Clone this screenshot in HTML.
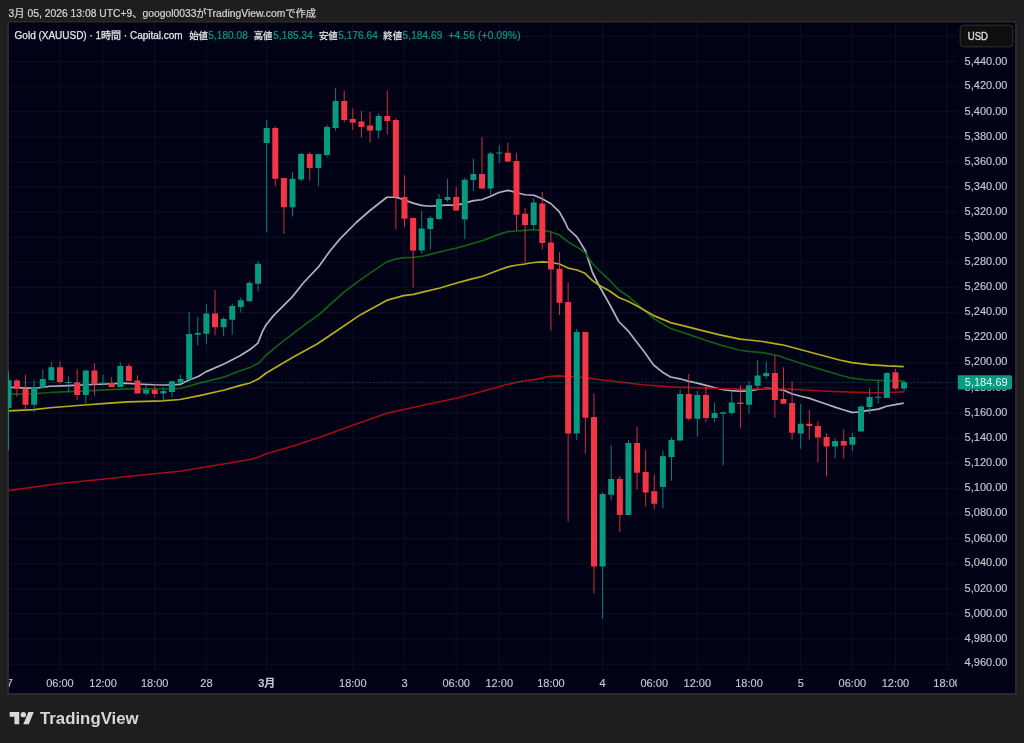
<!DOCTYPE html>
<html lang="ja"><head><meta charset="utf-8"><title>Gold (XAUUSD) · 1時間 · Capital.com</title>
<style>
html,body{margin:0;padding:0;background:#1e1e1e;}
body{width:1024px;height:743px;overflow:hidden;position:relative;font-family:"Liberation Sans","Noto Sans CJK JP",sans-serif;}
svg{position:absolute;left:0;top:0;display:block}
text{font-family:"Liberation Sans","Noto Sans CJK JP",sans-serif;}
.ax{font-size:11px;fill:#c6c7ce;stroke:#c6c7ce;stroke-width:0.15px}
.lg{font-size:10px;fill:#e4e4e6;stroke:#e4e4e6;stroke-width:0.25px}
.lv{font-size:10px;fill:#0a9a82;stroke:#0a9a82;stroke-width:0.2px}
</style></head><body>
<svg width="1024" height="743" viewBox="0 0 1024 743">
<defs><clipPath id="cp"><rect x="7.9" y="22.5" width="949.1" height="648.1"/></clipPath>
<clipPath id="ct"><rect x="9" y="670.6" width="948" height="22.4"/></clipPath></defs>
<text x="8.6" y="16.7" font-size="10.3" fill="#d6d6d6" stroke="#d6d6d6" stroke-width="0.2" textLength="307.5" lengthAdjust="spacing">3月 05, 2026 13:08 UTC+9、googol0033がTradingView.comで作成</text>
<rect x="7" y="21" width="1010" height="674" fill="#2a2a2b"/>
<rect x="9" y="22.5" width="1006" height="670.5" fill="#020217"/>
<path d="M9 36.39H957M9 61.50H957M9 86.61H957M9 111.72H957M9 136.82H957M9 161.93H957M9 187.04H957M9 212.15H957M9 237.26H957M9 262.36H957M9 287.47H957M9 312.58H957M9 337.69H957M9 362.80H957M9 387.90H957M9 413.01H957M9 438.12H957M9 463.23H957M9 488.34H957M9 513.44H957M9 538.55H957M9 563.66H957M9 588.77H957M9 613.88H957M9 638.98H957M9 664.09H957M59.98 22.5V670.6M103.04 22.5V670.6M154.72 22.5V670.6M206.40 22.5V670.6M266.69 22.5V670.6M352.82 22.5V670.6M404.50 22.5V670.6M456.18 22.5V670.6M499.24 22.5V670.6M550.92 22.5V670.6M602.60 22.5V670.6M654.27 22.5V670.6M697.34 22.5V670.6M749.02 22.5V670.6M800.70 22.5V670.6M852.37 22.5V670.6M895.44 22.5V670.6M947.12 22.5V670.6" stroke="#ffffff" stroke-opacity="0.048" stroke-width="1.25" fill="none"/>
<g clip-path="url(#cp)">
<path d="M8.50 387.40L11.25 387.25L25.60 388.10L37.50 388.00L50.00 386.25L68.75 385.60L87.50 384.75L106.25 384.00L124.50 383.10L137.00 384.00L154.50 384.75L168.25 385.00L180.10 384.40L189.50 379.75L198.25 376.50L205.75 371.90L224.50 363.75L239.50 355.90L250.00 349.50L257.90 343.20L262.25 331.90L266.00 325.00L273.50 315.60L282.25 306.90L292.25 296.90L303.50 282.75L307.25 278.75L318.50 266.90L329.75 251.25L340.00 238.90L356.25 222.50L370.00 210.50L386.90 197.25L396.25 197.25L404.40 200.00L413.10 203.10L421.25 205.40L430.25 206.25L438.50 205.60L447.50 205.00L456.25 205.40L464.50 203.10L473.50 200.60L481.60 199.75L490.75 196.25L498.90 192.50L507.90 190.40L516.00 192.50L525.00 194.75L534.00 195.25L542.10 198.75L551.00 203.75L559.40 211.90L565.00 222.00L568.10 228.75L576.90 236.90L585.40 250.80L592.50 272.50L598.75 285.00L610.00 305.00L618.75 321.50L628.30 331.10L636.50 341.80L644.75 352.50L653.60 365.00L662.50 372.20L670.60 377.00L680.00 378.80L689.00 381.40L697.25 383.10L706.00 385.40L714.25 387.50L723.25 389.75L731.40 390.60L740.25 391.25L748.50 390.80L757.50 389.40L766.50 388.30L774.70 388.90L783.60 390.25L791.75 393.75L800.75 396.25L808.90 398.10L817.90 401.25L826.00 404.00L834.90 407.10L843.90 410.00L852.00 412.40L857.50 412.10L861.00 411.40L869.30 410.30L878.50 409.10L886.50 406.25L895.40 404.60L903.75 403.10" stroke="#b2b1bb" stroke-width="1.7" fill="none" stroke-linejoin="round"/>
<path d="M8.50 394.20L11.25 394.10L33.75 393.75L50.00 392.50L68.75 391.60L87.50 390.90L106.25 389.90L127.50 388.90L137.00 388.75L162.00 389.00L180.10 388.50L199.50 383.10L224.50 376.90L239.50 371.00L250.00 367.50L258.75 363.00L266.25 355.00L281.00 342.90L296.00 331.25L303.50 325.60L318.50 315.00L343.50 292.50L361.00 279.40L386.60 261.90L396.25 258.90L404.40 257.60L413.10 257.50L423.50 256.00L430.00 254.40L447.50 250.00L456.25 248.10L472.50 243.50L482.50 240.60L498.90 234.40L507.90 231.60L516.00 231.00L525.00 230.40L534.00 229.75L542.10 230.40L551.00 231.90L559.40 235.00L568.10 241.90L576.90 246.90L585.60 253.10L592.50 263.75L602.50 273.75L610.00 280.60L618.75 290.00L628.10 296.25L637.50 304.40L647.50 313.10L653.75 318.50L663.50 324.40L670.60 328.50L688.75 334.40L706.25 340.50L722.50 345.60L740.00 350.25L748.75 351.30L762.50 352.70L777.50 355.50L783.25 357.50L802.00 363.75L820.75 369.40L839.50 375.00L852.00 378.20L864.50 379.75L879.50 380.50L887.50 380.70L903.75 380.90" stroke="#0f5f12" stroke-width="1.7" fill="none" stroke-linejoin="round"/>
<path d="M8.50 410.90L33.75 409.60L50.00 407.75L68.75 406.25L87.50 404.75L106.25 403.40L127.50 401.80L137.00 401.60L162.00 400.90L180.10 399.50L199.50 395.60L224.50 390.00L239.50 385.60L250.00 383.00L258.75 378.75L266.25 373.00L292.50 357.50L317.50 343.75L335.00 332.00L361.00 314.40L386.60 300.40L403.50 295.60L413.50 294.40L423.50 291.90L440.00 288.00L455.00 283.50L470.00 279.40L482.50 276.25L498.90 270.00L507.90 266.90L516.00 265.25L525.00 264.00L534.00 262.50L542.10 261.90L551.00 262.50L559.40 264.00L568.10 268.10L576.90 270.00L585.00 273.30L592.50 280.60L598.75 285.00L610.00 291.25L618.75 297.50L628.10 301.25L637.50 306.25L647.50 311.90L653.75 315.60L670.60 322.60L688.75 327.10L697.50 329.40L718.75 334.60L740.00 339.10L748.75 340.00L762.50 341.50L777.50 344.20L783.25 345.00L802.00 350.00L820.75 355.00L839.50 360.00L852.00 362.60L868.75 364.60L887.50 365.90L903.75 366.60" stroke="#b7ad1c" stroke-width="1.7" fill="none" stroke-linejoin="round"/>
<path d="M8.50 490.60L60.00 483.50L100.00 479.50L127.50 476.50L180.00 471.25L225.00 463.75L250.00 459.50L258.75 457.00L266.25 453.75L292.50 446.25L317.50 438.00L350.00 426.25L387.50 413.00L405.00 409.25L430.00 403.75L457.50 398.00L480.00 392.00L505.00 385.00L520.00 381.50L536.00 379.40L548.50 376.50L558.50 375.90L573.50 376.50L588.50 378.10L602.25 380.00L623.50 382.50L642.25 384.75L663.50 386.30L670.60 386.90L689.00 387.50L706.00 388.10L723.25 388.75L740.25 389.10L757.50 388.75L774.60 389.00L783.25 388.90L802.00 389.75L827.00 391.25L852.00 392.20L875.00 392.75L887.50 392.50L903.75 391.90" stroke="#a40d14" stroke-width="1.7" fill="none" stroke-linejoin="round"/>
<path d="M8.50 371.25V450.00M34.14 380.25V412.25M42.75 369.75V387.75M51.36 361.90V380.25M68.59 376.25V392.50M85.82 370.00V403.75M103.04 374.75V385.60M120.27 362.50V386.90M146.11 385.00V395.00M163.33 386.90V402.25M171.95 381.00V397.50M180.56 374.60V383.10M189.17 311.90V379.60M197.79 316.90V345.25M206.40 304.40V344.40M223.62 316.90V336.25M232.24 303.75V334.75M240.85 297.25V312.50M249.46 281.00V301.90M258.08 261.25V291.50M266.69 120.00V232.50M292.53 172.10V216.50M301.14 153.10V181.25M318.37 154.00V186.25M326.98 125.00V157.50M335.59 88.10V130.60M378.66 113.50V138.75M421.72 211.00V253.75M430.34 216.00V249.75M438.95 194.00V219.75M447.56 178.75V201.90M464.79 178.10V239.10M473.40 159.00V190.90M490.63 151.90V195.25M499.24 145.25V163.10M533.69 198.40V229.40M576.76 329.00V440.00M602.60 492.25V618.75M611.21 445.00V500.40M628.44 440.00V515.00M662.89 450.60V508.50M671.50 437.50V480.60M680.11 389.40V440.60M697.34 391.00V436.50M714.57 402.50V422.50M723.18 411.90V465.25M731.79 392.50V414.60M749.02 381.25V413.75M757.63 360.10V388.75M766.24 361.70V378.75M800.70 404.00V448.75M835.15 438.10V458.50M852.37 432.75V451.25M860.99 405.60V431.60M869.60 388.50V413.60M878.21 379.75V403.75M886.83 372.25V398.10M904.05 380.60V391.50" stroke="#089981" stroke-width="1" stroke-opacity="0.85" fill="none"/>
<path d="M16.91 378.75V396.90M25.53 374.75V410.60M59.98 361.50V384.40M77.20 369.00V400.00M94.43 363.10V395.90M111.66 376.90V386.90M128.88 363.75V381.00M137.50 375.25V393.50M154.72 384.40V397.50M215.01 290.00V335.60M275.30 126.25V186.25M283.92 177.90V233.75M309.75 152.25V180.60M344.21 90.60V122.50M352.82 108.50V130.00M361.43 111.00V137.75M370.05 111.90V142.75M387.27 90.60V134.60M395.88 118.10V229.40M404.50 175.25V226.90M413.11 217.90V287.50M456.18 186.90V210.60M482.01 137.10V189.40M507.85 142.75V162.25M516.47 152.75V230.60M525.08 208.10V263.10M542.31 191.90V249.75M550.92 232.50V330.60M559.53 252.25V315.00M568.14 282.10V521.60M585.37 332.10V453.75M593.98 393.50V593.50M619.82 476.00V532.10M637.05 426.90V489.75M645.66 449.75V506.25M654.27 475.00V509.40M688.73 374.00V420.60M705.95 386.90V422.50M740.40 385.00V428.50M774.86 355.20V417.80M783.47 367.25V403.75M792.08 381.25V439.75M809.31 410.00V439.75M817.92 421.25V462.50M826.53 433.50V476.50M843.76 429.40V458.50M895.44 369.00V390.00" stroke="#f23645" stroke-width="1" stroke-opacity="0.85" fill="none"/>
<path d="M5.50 380.25h6v27.85h-6zM31.14 387.10h6v17.65h-6zM39.75 379.00h6v8.75h-6zM48.36 367.25h6v13.00h-6zM65.59 382.07h6v1.00h-6zM82.82 370.60h6v24.40h-6zM100.04 382.82h6v1.00h-6zM117.27 365.90h6v21.00h-6zM143.11 389.75h6v3.65h-6zM160.33 391.00h6v2.40h-6zM168.95 381.25h6v10.65h-6zM177.56 379.00h6v3.50h-6zM186.17 334.00h6v45.60h-6zM194.79 332.90h6v1.85h-6zM203.40 313.40h6v20.35h-6zM220.62 319.10h6v8.15h-6zM229.24 306.00h6v13.75h-6zM237.85 300.25h6v6.65h-6zM246.46 283.10h6v18.15h-6zM255.08 263.75h6v20.00h-6zM263.69 127.90h6v15.00h-6zM289.53 178.75h6v28.50h-6zM298.14 154.00h6v25.60h-6zM315.37 154.00h6v14.10h-6zM323.98 127.10h6v27.90h-6zM332.59 101.00h6v27.10h-6zM375.66 115.90h6v14.70h-6zM418.72 228.50h6v22.10h-6zM427.34 217.90h6v11.20h-6zM435.95 199.10h6v19.90h-6zM444.56 196.90h6v3.10h-6zM461.79 179.75h6v39.85h-6zM470.40 174.00h6v6.00h-6zM487.63 153.50h6v35.00h-6zM496.24 152.50h6v1.00h-6zM530.69 202.50h6v22.50h-6zM573.76 332.10h6v101.40h-6zM599.60 494.00h6v72.50h-6zM608.21 479.00h6v15.75h-6zM625.44 443.10h6v71.90h-6zM659.89 456.25h6v30.75h-6zM668.50 440.00h6v16.90h-6zM677.11 394.00h6v46.60h-6zM694.34 395.00h6v23.75h-6zM711.57 413.10h6v5.00h-6zM720.18 412.25h6v1.50h-6zM728.79 402.50h6v10.60h-6zM746.02 385.25h6v19.50h-6zM754.63 375.60h6v10.20h-6zM763.24 373.10h6v3.15h-6zM797.70 423.75h6v9.75h-6zM832.15 441.00h6v5.60h-6zM849.37 436.90h6v7.85h-6zM857.99 406.50h6v25.10h-6zM866.60 396.90h6v10.10h-6zM875.21 396.82h6v1.00h-6zM883.83 373.10h6v25.00h-6zM901.05 382.25h6v6.25h-6z" fill="#089981"/>
<path d="M13.91 380.60h6v8.50h-6zM22.53 388.75h6v16.00h-6zM56.98 367.25h6v14.65h-6zM74.20 382.25h6v12.75h-6zM91.43 370.60h6v13.80h-6zM108.66 383.10h6v3.80h-6zM125.88 366.00h6v15.00h-6zM134.50 380.60h6v12.90h-6zM151.72 389.75h6v4.25h-6zM212.01 313.40h6v13.85h-6zM272.30 127.90h6v50.85h-6zM280.92 177.90h6v29.35h-6zM306.75 154.00h6v14.00h-6zM341.21 101.00h6v19.00h-6zM349.82 119.00h6v3.75h-6zM358.43 121.60h6v5.30h-6zM367.05 125.60h6v5.00h-6zM384.27 115.90h6v5.00h-6zM392.88 120.00h6v76.90h-6zM401.50 196.90h6v21.85h-6zM410.11 217.90h6v32.70h-6zM453.18 196.90h6v13.70h-6zM479.01 174.00h6v14.50h-6zM504.85 152.75h6v8.85h-6zM513.47 161.00h6v53.75h-6zM522.08 213.75h6v11.25h-6zM539.31 203.40h6v39.70h-6zM547.92 242.50h6v26.90h-6zM556.53 268.75h6v34.00h-6zM565.14 301.90h6v131.60h-6zM582.37 332.10h6v85.65h-6zM590.98 416.90h6v149.60h-6zM616.82 479.00h6v36.00h-6zM634.05 443.10h6v29.65h-6zM642.66 471.90h6v20.60h-6zM651.27 491.25h6v12.50h-6zM685.73 394.00h6v24.75h-6zM702.95 395.00h6v23.10h-6zM737.40 402.50h6v1.60h-6zM771.86 373.10h6v26.80h-6zM780.47 399.00h6v4.75h-6zM789.08 403.10h6v29.65h-6zM806.31 423.75h6v2.25h-6zM814.92 426.00h6v11.50h-6zM823.53 436.90h6v9.70h-6zM840.76 441.00h6v4.60h-6zM892.44 372.25h6v16.25h-6z" fill="#f23645"/>
</g>
<path d="M9 382.4H957" stroke="#089981" stroke-opacity="0.6" stroke-width="1" stroke-dasharray="0.95 1.5" fill="none"/>
<text class="lg" x="14.6" y="38.7" textLength="168" lengthAdjust="spacing">Gold (XAUUSD) · 1時間 · Capital.com</text>
<text class="lg" x="189.2" y="38.5" style="font-size:9.4px">始値</text>
<text class="lv" x="208.2" y="38.7" textLength="39.6" lengthAdjust="spacing">5,180.08</text>
<text class="lg" x="253.7" y="38.5" style="font-size:9.4px">高値</text>
<text class="lv" x="273.2" y="38.7" textLength="39.6" lengthAdjust="spacing">5,185.34</text>
<text class="lg" x="318.9" y="38.5" style="font-size:9.4px">安値</text>
<text class="lv" x="338.2" y="38.7" textLength="39.6" lengthAdjust="spacing">5,176.64</text>
<text class="lg" x="383.3" y="38.5" style="font-size:9.4px">終値</text>
<text class="lv" x="402.6" y="38.7" textLength="39.6" lengthAdjust="spacing">5,184.69</text>
<text class="lv" x="448.4" y="38.7" textLength="72.2" lengthAdjust="spacing">+4.56 (+0.09%)</text>
<text class="ax" x="964.6" y="64.80">5,440.00</text>
<text class="ax" x="964.6" y="89.41">5,420.00</text>
<text class="ax" x="964.6" y="114.52">5,400.00</text>
<text class="ax" x="964.6" y="139.62">5,380.00</text>
<text class="ax" x="964.6" y="164.73">5,360.00</text>
<text class="ax" x="964.6" y="189.84">5,340.00</text>
<text class="ax" x="964.6" y="214.95">5,320.00</text>
<text class="ax" x="964.6" y="240.06">5,300.00</text>
<text class="ax" x="964.6" y="265.16">5,280.00</text>
<text class="ax" x="964.6" y="290.27">5,260.00</text>
<text class="ax" x="964.6" y="315.38">5,240.00</text>
<text class="ax" x="964.6" y="340.49">5,220.00</text>
<text class="ax" x="964.6" y="364.80">5,200.00</text>
<text class="ax" x="964.6" y="390.70">5,180.00</text>
<text class="ax" x="964.6" y="415.81">5,160.00</text>
<text class="ax" x="964.6" y="440.92">5,140.00</text>
<text class="ax" x="964.6" y="466.03">5,120.00</text>
<text class="ax" x="964.6" y="491.14">5,100.00</text>
<text class="ax" x="964.6" y="516.24">5,080.00</text>
<text class="ax" x="964.6" y="542.05">5,060.00</text>
<text class="ax" x="964.6" y="566.46">5,040.00</text>
<text class="ax" x="964.6" y="591.57">5,020.00</text>
<text class="ax" x="964.6" y="616.68">5,000.00</text>
<text class="ax" x="964.6" y="641.78">4,980.00</text>
<text class="ax" x="964.6" y="666.29">4,960.00</text>
<path d="M957.8 375.2h52.2a2 2 0 0 1 2 2v10.3a2 2 0 0 1 -2 2h-52.2z" fill="#0a9c83"/>
<text x="964.8" y="385.8" font-size="11" fill="#eaf6f3">5,184.69</text>
<rect x="960.2" y="25.2" width="52.6" height="21.6" rx="3.2" fill="#0f0f0f" stroke="#323232" stroke-width="1"/>
<text x="967.8" y="40" font-size="10.2" fill="#d9d9d9" stroke="#d9d9d9" stroke-width="0.4" textLength="20.2" lengthAdjust="spacingAndGlyphs">USD</text>
<g clip-path="url(#ct)">
<text class="ax" x="6.80" y="686.6" text-anchor="middle">27</text>
<text class="ax" x="59.98" y="686.6" text-anchor="middle">06:00</text>
<text class="ax" x="103.04" y="686.6" text-anchor="middle">12:00</text>
<text class="ax" x="154.72" y="686.6" text-anchor="middle">18:00</text>
<text class="ax" x="206.40" y="686.6" text-anchor="middle">28</text>
<text class="ax" x="266.69" y="686.6" text-anchor="middle" font-weight="bold" fill="#dcdde0">3月</text>
<text class="ax" x="352.82" y="686.6" text-anchor="middle">18:00</text>
<text class="ax" x="404.50" y="686.6" text-anchor="middle">3</text>
<text class="ax" x="456.18" y="686.6" text-anchor="middle">06:00</text>
<text class="ax" x="499.24" y="686.6" text-anchor="middle">12:00</text>
<text class="ax" x="550.92" y="686.6" text-anchor="middle">18:00</text>
<text class="ax" x="602.60" y="686.6" text-anchor="middle">4</text>
<text class="ax" x="654.27" y="686.6" text-anchor="middle">06:00</text>
<text class="ax" x="697.34" y="686.6" text-anchor="middle">12:00</text>
<text class="ax" x="749.02" y="686.6" text-anchor="middle">18:00</text>
<text class="ax" x="800.70" y="686.6" text-anchor="middle">5</text>
<text class="ax" x="852.37" y="686.6" text-anchor="middle">06:00</text>
<text class="ax" x="895.44" y="686.6" text-anchor="middle">12:00</text>
<text class="ax" x="947.12" y="686.6" text-anchor="middle">18:00</text>
</g>
<g transform="translate(9.7 709.2) scale(0.68)" fill="#d8d8d8"><path d="M14 22H7V11H0V4h14v18zM28 22h-8l7.5-18h8L28 22z"/><circle cx="20" cy="8" r="4"/></g>
<text x="40" y="724.3" font-size="17" font-weight="bold" fill="#d8d8d8" textLength="98.6" lengthAdjust="spacingAndGlyphs">TradingView</text>
</svg>
</body></html>
